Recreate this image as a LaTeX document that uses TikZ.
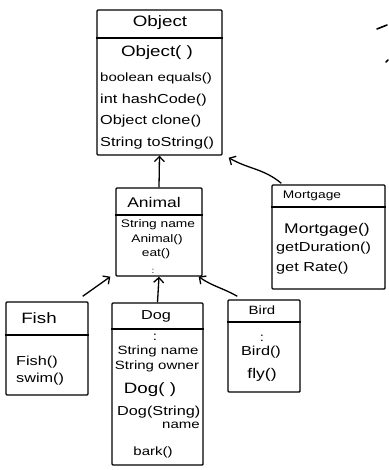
\documentclass[tikz,border=0pt]{standalone}
\usepackage{fontspec}
\setmainfont{Liberation Sans}
\newfontfamily\handfont[FakeStretch=1.25]{Liberation Sans}
\usetikzlibrary{arrows.meta,calc}
\newcommand{\penfont}[1]{\handfont\fontsize{#1}{#1}\selectfont}
\begin{document}
\begin{tikzpicture}[x=1pt,y=-1pt,
  classbox/.style={draw,line width=1.4pt,rounded corners=1pt,inner sep=0pt},
  divider/.style={line width=1.3pt},
  member/.style={inner sep=0pt,font=\penfont{12}},
  title/.style={inner sep=0pt,font=\penfont{13}},
  inherit/.style={line width=1.3pt,-{Straight Barb[length=5pt,width=10pt,line width=1.3pt]}},
  stroke/.style={line width=1.6pt,line cap=round}]
\useasboundingbox (0,0) rectangle (388,470);

% Object
\node[classbox,minimum width=125,minimum height=145] (object) at (159.5,82.5) {};
\draw[divider] (object.west |- 0,38) -- (object.east |- 0,38);
\node[title,font=\penfont{15}] (objt) at (160,23) {Object};
\node[member,font=\penfont{15}] (o1) at (157,53) {Object( )};
\node[member,anchor=west,font=\penfont{12}] (o2) at (100,78) {boolean equals()};
\node[member,anchor=west,font=\penfont{13}] (o3) at (100,100) {int hashCode()};
\node[member,anchor=west,font=\penfont{13}] (o4) at (100,121) {Object clone()};
\node[member,anchor=west,font=\penfont{13}] (o5) at (100,143) {String toString()};

% Animal
\node[classbox,minimum width=86,minimum height=88] (animal) at (159,232) {};
\draw[divider] (animal.west |- 0,215) -- (animal.east |- 0,215);
\node[title,font=\penfont{14}] (anit) at (154,202) {Animal};
\node[member,font=\penfont{11}] (a1) at (158,225) {String name};
\node[member,font=\penfont{11}] (a2) at (157,240) {Animal()};
\node[member,font=\penfont{11}] (a3) at (156,254) {eat()};
\node[member,font=\penfont{8}] (a4) at (153,271) {:};

% Mortgage
\node[classbox,minimum width=113,minimum height=104] (mortgage) at (328.5,237) {};
\draw[divider] (mortgage.west |- 0,207) -- (mortgage.east |- 0,207);
\node[title,font=\penfont{11}] (mortt) at (312,196) {Mortgage};
\node[member,anchor=west,font=\penfont{14}] (m1) at (284,230) {Mortgage()};
\node[member,anchor=west,font=\penfont{13}] (m2) at (276,248) {getDuration()};
\node[member,anchor=west,font=\penfont{13}] (m3) at (276,268) {get Rate()};

% Fish
\node[classbox,minimum width=82,minimum height=93] (fish) at (47,348.5) {};
\draw[divider] (fish.west |- 0,335) -- (fish.east |- 0,335);
\node[title,font=\penfont{15}] (fisht) at (39,318) {Fish};
\node[member,anchor=west,font=\penfont{13}] (f1) at (16,362) {Fish()};
\node[member,anchor=west,font=\penfont{13}] (f2) at (16,379) {swim()};

% Dog
\node[classbox,minimum width=91,minimum height=162] (dog) at (157.5,384) {};
\draw[divider] (dog.west |- 0,329) -- (dog.east |- 0,329);
\node[title] (dogt) at (156,316) {Dog};
\node[member] (d0) at (155,337) {:};
\node[member] (d1) at (158,351) {String name};
\node[member] (d2) at (157,366) {String owner};
\node[member,font=\penfont{15}] (d3) at (150,390) {Dog( )};
\node[member,anchor=west,font=\penfont{13}] (d4) at (117,412) {Dog(String)};
\node[member] (d5) at (181,425) {name};
\node[member] (d6) at (153,452) {bark()};

% Bird
\node[classbox,minimum width=72,minimum height=92] (bird) at (264,346) {};
\draw[divider] (bird.west |- 0,322) -- (bird.east |- 0,322);
\node[title,font=\penfont{12}] (birdt) at (262,310) {Bird};
\node[member] (b0) at (262,338) {:};
\node[member,font=\penfont{13}] (b1) at (261,352) {Bird()};
\node[member,font=\penfont{14}] (b2) at (262,375) {fly()};

% Inheritance arrows
\coordinate (mstart) at ($(mortgage.north west)+(10,-1)$);
\coordinate (mend) at ($(object.south east)+(6,2)$);
\coordinate (fstart) at ($(fish.north east)+(-6,-5)$);
\coordinate (fend) at ($(animal.south west)+(-5,0)$);
\coordinate (bstart) at ($(bird.north west)+(10,-3)$);
\coordinate (bend) at ($(animal.south east)+(-4,0)$);
\draw[inherit] (animal.north) -- (object.south);
\draw[inherit] (mstart) to[out=140,in=-30] (mend);
\draw[inherit] (fstart) -- (fend);
\draw[inherit] (dog.north) -- (animal.south);
\draw[inherit] (bstart) to[out=150,in=-35] (bend);

% Stray pen marks at the right edge
\coordinate (s1a) at (377,29);
\coordinate (s1b) at (387,25);
\coordinate (s2a) at (386,62);
\coordinate (s2b) at (388,60);
\draw[stroke] (s1a) -- (s1b);
\draw[stroke] (s2a) -- (s2b);
\end{tikzpicture}
\end{document}
